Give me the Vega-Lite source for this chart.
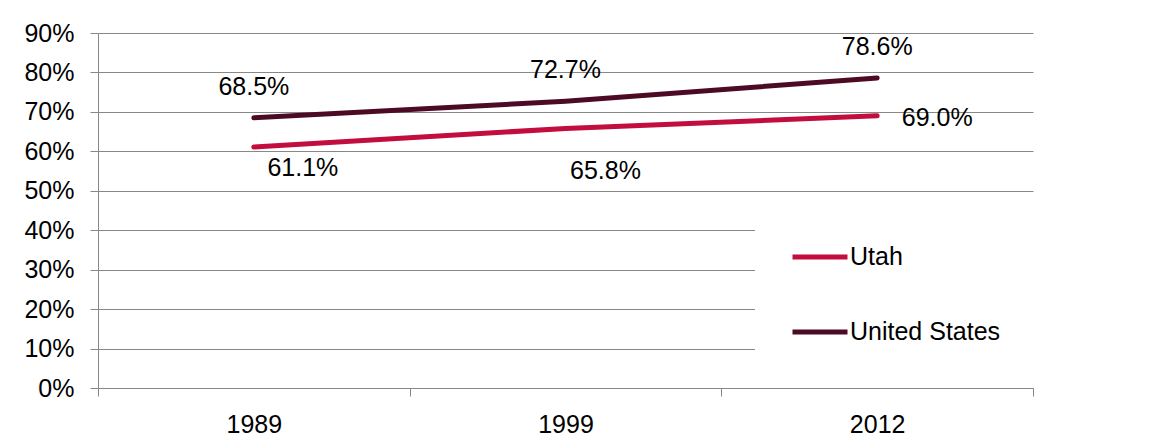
{
  "$schema": "https://vega.github.io/schema/vega-lite/v6.json",
  "width": 935,
  "height": 355,
  "autosize": {"type": "none"},
  "padding": {"left": 98, "top": 33, "right": 129, "bottom": 60},
  "background": "white",
  "config": {
    "view": {"stroke": null},
    "font": "Liberation Sans",
    "axis": {
      "labelFont": "Liberation Sans",
      "labelFontSize": 25,
      "labelColor": "#000000",
      "domainColor": "#888888",
      "tickColor": "#888888",
      "gridColor": "#888888",
      "domainWidth": 1,
      "tickWidth": 1,
      "gridWidth": 1,
      "tickSize": 8,
      "title": null
    }
  },
  "data": {
    "values": [
      {"year": "1989", "series": "Utah", "value": 0.611, "label": "61.1%"},
      {"year": "1999", "series": "Utah", "value": 0.658, "label": "65.8%"},
      {"year": "2012", "series": "Utah", "value": 0.690, "label": "69.0%"},
      {"year": "1989", "series": "United States", "value": 0.685, "label": "68.5%"},
      {"year": "1999", "series": "United States", "value": 0.727, "label": "72.7%"},
      {"year": "2012", "series": "United States", "value": 0.786, "label": "78.6%"}
    ]
  },
  "encoding": {
    "x": {
      "field": "year",
      "type": "ordinal",
      "bandPosition": 0.5,
      "scale": {"type": "band", "paddingInner": 0, "paddingOuter": 0},
      "axis": {"labelAngle": 0, "tickBand": "extent", "grid": false, "labelPadding": 16}
    },
    "y": {
      "field": "value",
      "type": "quantitative",
      "scale": {"domain": [0, 0.9], "nice": false},
      "axis": {"values": [0, 0.1, 0.2, 0.3, 0.4, 0.5, 0.6, 0.7, 0.8, 0.9], "format": ".0%", "grid": true, "labelPadding": 16}
    }
  },
  "layer": [
    {
      "mark": {"type": "line", "strokeWidth": 5, "strokeCap": "round"},
      "encoding": {
        "stroke": {
          "field": "series",
          "type": "nominal",
          "scale": {"domain": ["Utah", "United States"], "range": ["#C20D3E", "#4D0A24"]},
          "legend": {
            "title": null,
            "orient": "none",
            "legendX": 657,
            "legendY": 159,
            "fillColor": "white",
            "padding": 35,
            "symbolType": "stroke",
            "symbolSize": 3025,
            "symbolStrokeWidth": 5,
            "labelFont": "Liberation Sans",
            "labelFontSize": 25,
            "labelColor": "#000000",
            "labelOffset": 0,
            "rowPadding": 32,
            "labelLimit": 400
          }
        }
      }
    },
    {
      "transform": [{"filter": "datum.series === 'United States'"}],
      "mark": {"type": "text", "fontSize": 25, "font": "Liberation Sans", "color": "#000000", "dy": -31},
      "encoding": {"text": {"field": "label"}}
    },
    {
      "transform": [{"filter": "datum.series === 'Utah' && datum.year === '1989'"}],
      "mark": {"type": "text", "fontSize": 25, "font": "Liberation Sans", "color": "#000000", "dx": 49, "dy": 21},
      "encoding": {"text": {"field": "label"}}
    },
    {
      "transform": [{"filter": "datum.series === 'Utah' && datum.year === '1999'"}],
      "mark": {"type": "text", "fontSize": 25, "font": "Liberation Sans", "color": "#000000", "dx": 40, "dy": 43},
      "encoding": {"text": {"field": "label"}}
    },
    {
      "transform": [{"filter": "datum.series === 'Utah' && datum.year === '2012'"}],
      "mark": {"type": "text", "fontSize": 25, "font": "Liberation Sans", "color": "#000000", "dx": 60, "dy": 2},
      "encoding": {"text": {"field": "label"}}
    }
  ]
}
